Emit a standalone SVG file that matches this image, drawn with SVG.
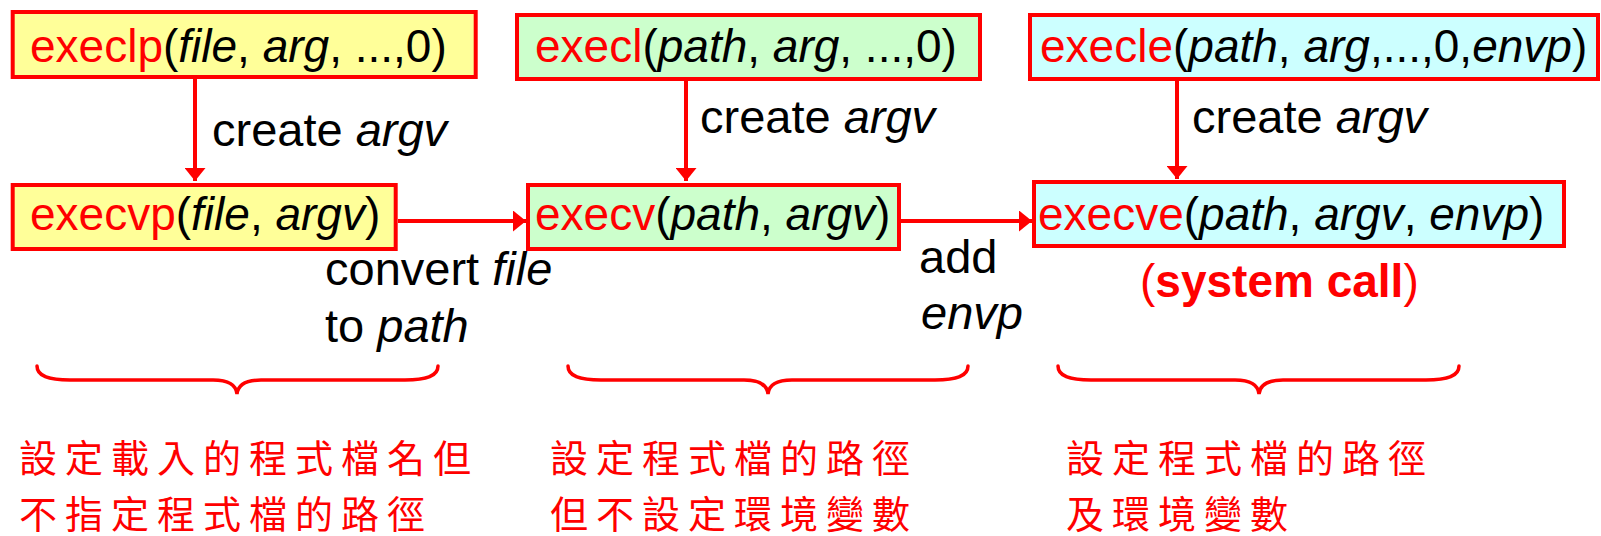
<svg xmlns="http://www.w3.org/2000/svg" width="1601" height="536" viewBox="0 0 1601 536">
  <defs>
    <style>
      .box { stroke: #ff0000; stroke-width: 4; }
      .yellow { fill: #ffff99; }
      .green { fill: #ccffcc; }
      .cyan { fill: #ccffff; }
      .t { font-family: "Liberation Sans", Arial, sans-serif; font-size: 46px; fill: #000000; }
      .lbl { font-family: "Liberation Sans", Arial, sans-serif; font-size: 47px; fill: #000000; }
      .fn { fill: #ff0000; }
      .it { font-style: italic; }
      .sys { font-family: "Liberation Sans", Arial, sans-serif; font-size: 46px; fill: #ff0000; }
      .sys .b { font-weight: bold; }
      .link { stroke: #ff0000; stroke-width: 4; fill: none; }
      .brace { stroke: #ff0000; stroke-width: 3.5; fill: none; stroke-linecap: round; }
      .zh { font-family: "Noto Sans CJK TC", "Noto Sans CJK SC", sans-serif; font-size: 38px; letter-spacing: 8px; fill: #ff0000; }
    </style>
    <marker id="head" viewBox="0 0 13 21" refX="13" refY="10.5" markerWidth="13" markerHeight="21" markerUnits="userSpaceOnUse" orient="auto">
      <path d="M0,0 L13,10.5 L0,21 z" fill="#ff0000"/>
    </marker>
  </defs>

  <!-- connectors -->
  <g id="connectors">
    <path class="link" d="M195,79 L195,181" marker-end="url(#head)"/>
    <path class="link" d="M686,81 L686,181" marker-end="url(#head)"/>
    <path class="link" d="M1177,81 L1177,179" marker-end="url(#head)"/>
    <path class="link" d="M398,221 L526,221" marker-end="url(#head)"/>
    <path class="link" d="M901,221 L1032,221" marker-end="url(#head)"/>
    <text class="lbl" x="212" y="146">create <tspan class="it">argv</tspan></text>
    <text class="lbl" x="700" y="133">create <tspan class="it">argv</tspan></text>
    <text class="lbl" x="1192" y="133">create <tspan class="it">argv</tspan></text>
    <text class="lbl" x="325" y="285">convert <tspan class="it">file</tspan></text>
    <text class="lbl" x="325" y="342">to <tspan class="it">path</tspan></text>
    <text class="lbl" x="919" y="273">add</text>
    <text class="lbl it" x="921" y="329">envp</text>
  </g>

  <!-- function nodes -->
  <g id="execlp">
    <rect class="box yellow" x="12.7" y="12" width="463" height="65"/>
    <text class="t" x="30" y="62"><tspan class="fn">execlp</tspan>(<tspan class="it">file</tspan>, <tspan class="it">arg</tspan>, ...,0)</text>
  </g>
  <g id="execvp">
    <rect class="box yellow" x="12.7" y="185" width="383" height="64"/>
    <text class="t" x="30" y="230"><tspan class="fn">execvp</tspan>(<tspan class="it">file</tspan>, <tspan class="it">argv</tspan>)</text>
  </g>
  <g id="execl">
    <rect class="box green" x="517" y="15" width="463" height="64"/>
    <text class="t" x="535" y="62"><tspan class="fn">execl</tspan>(<tspan class="it">path</tspan>, <tspan class="it">arg</tspan>, ...,0)</text>
  </g>
  <g id="execv">
    <rect class="box green" x="528" y="185" width="371" height="64"/>
    <text class="t" x="535" y="230"><tspan class="fn">execv</tspan>(<tspan class="it">path</tspan>, <tspan class="it">argv</tspan>)</text>
  </g>
  <g id="execle">
    <rect class="box cyan" x="1030" y="15" width="568" height="64"/>
    <text class="t" x="1040" y="62"><tspan class="fn">execle</tspan>(<tspan class="it">path</tspan>, <tspan class="it">arg</tspan>,...,0,<tspan class="it">envp</tspan>)</text>
  </g>
  <g id="execve">
    <rect class="box cyan" x="1034" y="182" width="530" height="64"/>
    <text class="t" x="1038" y="230"><tspan class="fn">execve</tspan>(<tspan class="it">path</tspan>, <tspan class="it">argv</tspan>, <tspan class="it">envp</tspan>)</text>
    <text class="sys" x="1140" y="297">(<tspan class="b">system call</tspan>)</text>
  </g>

  <!-- group braces and notes -->
  <g id="note-left">
    <path class="brace" d="M37,366 C37,376 48,380 70,380 L213,380 C228,380 236,384 237,394 C238,384 246,380 261,380 L405,380 C427,380 438,376 438,366"/>
    <text class="zh" x="19" y="472">設定載入的程式檔名但</text>
    <text class="zh" x="19" y="528">不指定程式檔的路徑</text>
  </g>
  <g id="note-middle">
    <path class="brace" d="M568,366 C568,376 579,380 601,380 L744,380 C759,380 767,384 768,394 C769,384 777,380 792,380 L935,380 C957,380 968,376 968,366"/>
    <text class="zh" x="550" y="472">設定程式檔的路徑</text>
    <text class="zh" x="550" y="528">但不設定環境變數</text>
  </g>
  <g id="note-right">
    <path class="brace" d="M1058,366 C1058,376 1069,380 1091,380 L1235,380 C1250,380 1258,384 1259,394 C1260,384 1268,380 1283,380 L1426,380 C1448,380 1459,376 1459,366"/>
    <text class="zh" x="1066" y="472">設定程式檔的路徑</text>
    <text class="zh" x="1066" y="528">及環境變數</text>
  </g>
</svg>
